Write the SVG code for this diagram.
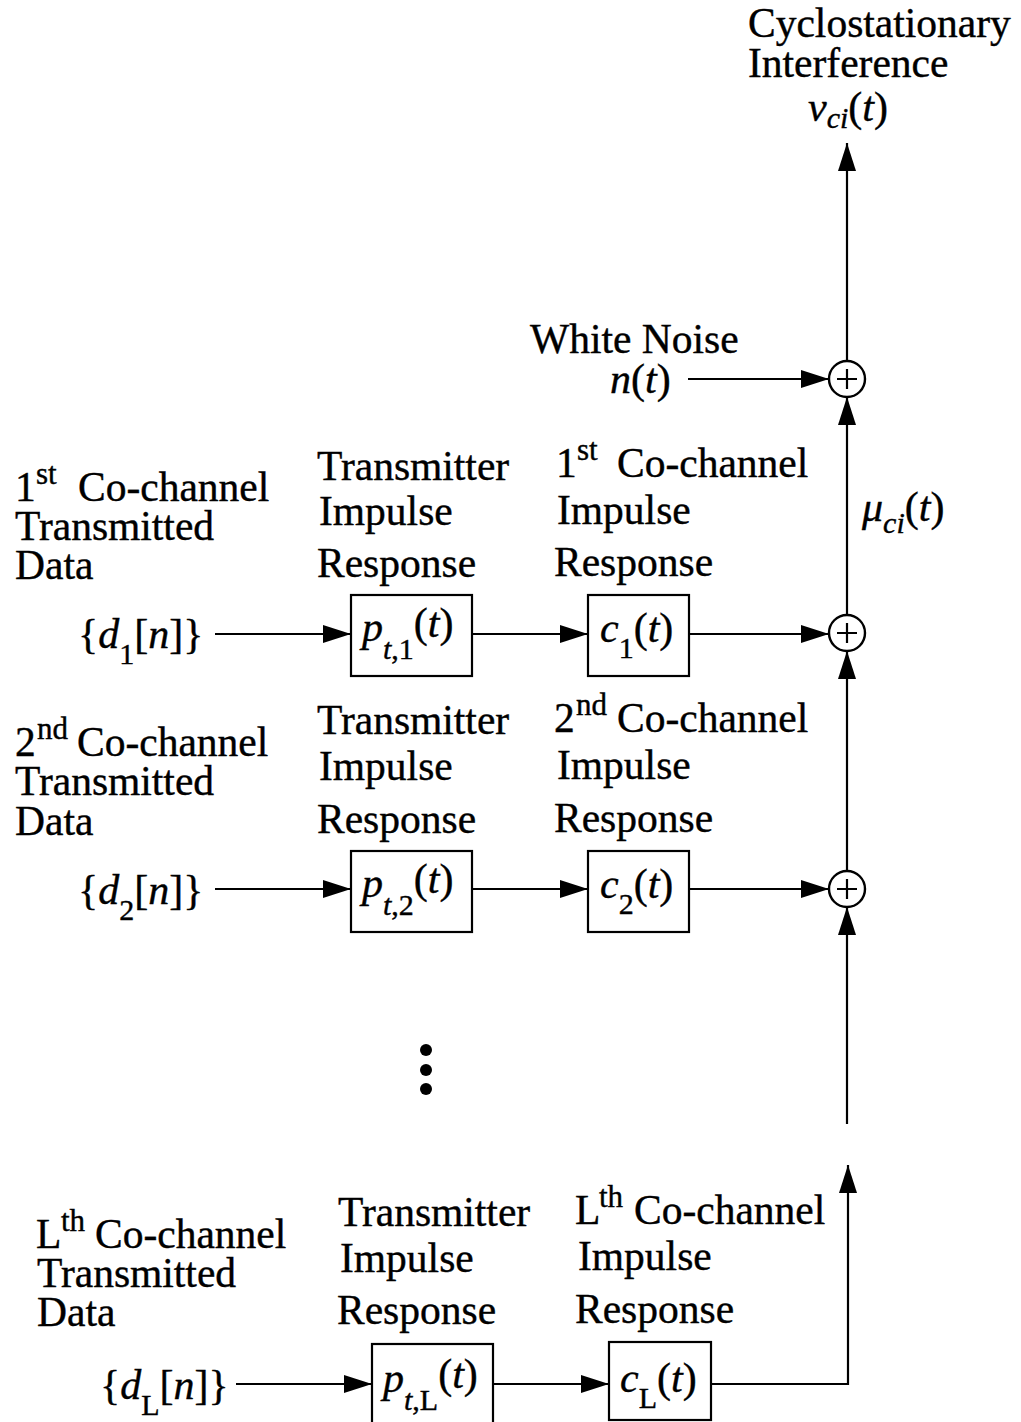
<svg xmlns="http://www.w3.org/2000/svg" width="1021" height="1422" viewBox="0 0 1021 1422">
<style>
.t{font-family:"Liberation Serif","Times New Roman",serif;font-size:41.5px;fill:#000;stroke:#000;stroke-width:0.4}
.m{font-family:"Liberation Serif","Times New Roman",serif;font-size:42px;fill:#000;stroke:#000;stroke-width:0.4}
.i{font-style:italic}
.s{font-size:30px}
.sup{font-size:31px}
.box{fill:#fff;stroke:#000;stroke-width:2.2}
.sum{fill:#fff;stroke:#000;stroke-width:2.4}
.ln{fill:none;stroke:#000;stroke-width:2.2}
</style>
<defs>
<marker id="ah" viewBox="0 0 28 18" refX="28" refY="9" markerWidth="28" markerHeight="18" markerUnits="userSpaceOnUse" orient="auto">
<path d="M0,0 L28,9 L0,18 Z" fill="#000"/>
</marker>
</defs>

<g id="connectors">
<line class="ln" x1="847" y1="361" x2="847" y2="143" marker-end="url(#ah)"/>
<line class="ln" x1="688" y1="379" x2="829" y2="379" marker-end="url(#ah)"/>
<line class="ln" x1="847" y1="615" x2="847" y2="397" marker-end="url(#ah)"/>
<line class="ln" x1="847" y1="871" x2="847" y2="651" marker-end="url(#ah)"/>
<line class="ln" x1="847" y1="1124" x2="847" y2="907" marker-end="url(#ah)"/>
<line class="ln" x1="215" y1="634" x2="351" y2="634" marker-end="url(#ah)"/>
<line class="ln" x1="472" y1="634" x2="588" y2="634" marker-end="url(#ah)"/>
<line class="ln" x1="689" y1="634" x2="829" y2="634" marker-end="url(#ah)"/>
<line class="ln" x1="215" y1="889" x2="351" y2="889" marker-end="url(#ah)"/>
<line class="ln" x1="472" y1="889" x2="588" y2="889" marker-end="url(#ah)"/>
<line class="ln" x1="689" y1="889" x2="829" y2="889" marker-end="url(#ah)"/>
<line class="ln" x1="236" y1="1384" x2="372" y2="1384" marker-end="url(#ah)"/>
<line class="ln" x1="493" y1="1384" x2="609" y2="1384" marker-end="url(#ah)"/>
<polyline class="ln" points="711,1384 848,1384 848,1165" marker-end="url(#ah)"/>
</g>

<g id="output-label">
<text class="t" x="748" y="37">Cyclostationary</text>
<text class="t" x="748" y="77">Interference</text>
<text class="m" x="808" y="121"><tspan class="i">v</tspan><tspan class="i s" dy="7">ci</tspan><tspan dy="-7">(</tspan><tspan class="i">t</tspan>)</text>
</g>

<g id="noise-label">
<text class="t" x="530" y="353">White Noise</text>
<text class="m" x="610" y="393"><tspan class="i">n</tspan>(<tspan class="i">t</tspan>)</text>
</g>

<g id="sum1"><circle class="sum" cx="847" cy="379" r="18"/><path class="ln" d="M837,379 H857 M847,369 V389"/></g>
<g id="sum2"><circle class="sum" cx="847" cy="633" r="18"/><path class="ln" d="M837,633 H857 M847,623 V643"/></g>
<g id="sum3"><circle class="sum" cx="847" cy="889" r="18"/><path class="ln" d="M837,889 H857 M847,879 V899"/></g>

<g id="mu-label">
<text class="m" x="862" y="521"><tspan class="i">μ</tspan><tspan class="i s" dy="12">ci</tspan><tspan dy="-12">(</tspan><tspan class="i">t</tspan>)</text>
</g>

<!-- Row 1 -->
<g id="row1-source">
<text class="t" x="15" y="501">1<tspan class="sup" x="36" y="484">st</tspan><tspan x="78" y="501">Co-channel</tspan></text>
<text class="t" x="15" y="540">Transmitted</text>
<text class="t" x="15" y="579">Data</text>
<text class="m" x="78" y="648">{<tspan class="i">d</tspan><tspan class="s" dy="16">1</tspan><tspan dy="-16">[</tspan><tspan class="i">n</tspan>]}</text>
</g>
<g id="row1-tx">
<text class="t" x="317" y="480">Transmitter</text>
<text class="t" x="319" y="525">Impulse</text>
<text class="t" x="317" y="577">Response</text>
<rect class="box" x="351" y="595" width="121" height="81"/>
<text class="m" x="362" y="641"><tspan class="i">p</tspan><tspan class="s" dy="18"><tspan class="i">t</tspan>,1</tspan><tspan dy="-22">(</tspan><tspan class="i">t</tspan>)</text>
</g>
<g id="row1-ch">
<text class="t" x="556" y="477">1<tspan class="sup" x="577" y="460">st</tspan><tspan x="617" y="477">Co-channel</tspan></text>
<text class="t" x="557" y="524">Impulse</text>
<text class="t" x="554" y="576">Response</text>
<rect class="box" x="588" y="595" width="101" height="81"/>
<text class="m" x="600" y="642"><tspan class="i">c</tspan><tspan class="s" dy="16">1</tspan><tspan dy="-16">(</tspan><tspan class="i">t</tspan>)</text>
</g>

<!-- Row 2 -->
<g id="row2-source">
<text class="t" x="15" y="756">2<tspan class="sup" x="37" y="739">nd</tspan><tspan x="77" y="756">Co-channel</tspan></text>
<text class="t" x="15" y="795">Transmitted</text>
<text class="t" x="15" y="835">Data</text>
<text class="m" x="78" y="904">{<tspan class="i">d</tspan><tspan class="s" dy="16">2</tspan><tspan dy="-16">[</tspan><tspan class="i">n</tspan>]}</text>
</g>
<g id="row2-tx">
<text class="t" x="317" y="734">Transmitter</text>
<text class="t" x="319" y="780">Impulse</text>
<text class="t" x="317" y="833">Response</text>
<rect class="box" x="351" y="851" width="121" height="81"/>
<text class="m" x="362" y="897"><tspan class="i">p</tspan><tspan class="s" dy="18"><tspan class="i">t</tspan>,2</tspan><tspan dy="-22">(</tspan><tspan class="i">t</tspan>)</text>
</g>
<g id="row2-ch">
<text class="t" x="554" y="732">2<tspan class="sup" x="576" y="715">nd</tspan><tspan x="617" y="732">Co-channel</tspan></text>
<text class="t" x="557" y="779">Impulse</text>
<text class="t" x="554" y="832">Response</text>
<rect class="box" x="588" y="851" width="101" height="81"/>
<text class="m" x="600" y="898"><tspan class="i">c</tspan><tspan class="s" dy="16">2</tspan><tspan dy="-16">(</tspan><tspan class="i">t</tspan>)</text>
</g>

<g id="ellipsis">
<circle cx="426" cy="1050" r="6"/>
<circle cx="426" cy="1070" r="6"/>
<circle cx="426" cy="1089" r="6"/>
</g>

<!-- Row L -->
<g id="rowL-source">
<text class="t" x="36" y="1248">L<tspan class="sup" x="61" y="1231">th</tspan><tspan x="95" y="1248">Co-channel</tspan></text>
<text class="t" x="37" y="1287">Transmitted</text>
<text class="t" x="37" y="1326">Data</text>
<text class="m" x="100" y="1399">{<tspan class="i">d</tspan><tspan class="s" dy="16">L</tspan><tspan dy="-16">[</tspan><tspan class="i">n</tspan>]}</text>
</g>
<g id="rowL-tx">
<text class="t" x="338" y="1226">Transmitter</text>
<text class="t" x="340" y="1272">Impulse</text>
<text class="t" x="337" y="1324">Response</text>
<rect class="box" x="372" y="1344" width="121" height="80"/>
<text class="m" x="383" y="1392"><tspan class="i">p</tspan><tspan class="s" dy="18"><tspan class="i">t</tspan>,L</tspan><tspan dy="-22">(</tspan><tspan class="i">t</tspan>)</text>
</g>
<g id="rowL-ch">
<text class="t" x="575" y="1224">L<tspan class="sup" x="599" y="1207">th</tspan><tspan x="634" y="1224">Co-channel</tspan></text>
<text class="t" x="578" y="1270">Impulse</text>
<text class="t" x="575" y="1323">Response</text>
<rect class="box" x="609" y="1342" width="102" height="78"/>
<text class="m" x="620" y="1392"><tspan class="i">c</tspan><tspan class="s" dy="16">L</tspan><tspan dy="-16">(</tspan><tspan class="i">t</tspan>)</text>
</g>
</svg>
